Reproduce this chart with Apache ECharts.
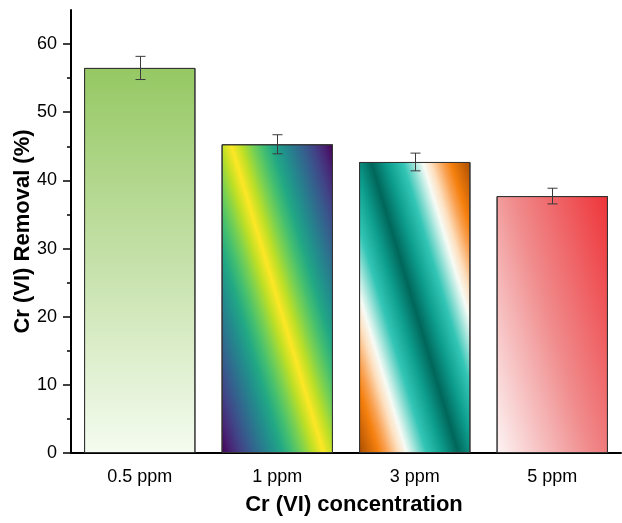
<!DOCTYPE html>
<html>
<head>
<meta charset="utf-8">
<script src="https://cdn.jsdelivr.net/npm/echarts@6/dist/echarts.min.js"></script>
<style>html,body{margin:0;padding:0;background:#fff;}</style>
</head>
<body>
<div id="main" style="width:622px;height:523px;"></div>
<script>

var categories = ['0.5 ppm', '1 ppm', '3 ppm', '5 ppm'];
var removal = [56.5, 45.3, 42.7, 37.7];
var errors = [1.7, 1.4, 1.3, 1.15];
var majorTicks = [0, 10, 20, 30, 40, 50, 60];
var minorTicks = [5, 15, 25, 35, 45, 55];

var font = 'Liberation Sans, Arial, sans-serif';

var chart = echarts.init(document.getElementById('main'));

// colour stops of the fills
var greenStops = [
    {offset: 0, color: '#95c863'},
    {offset: 0.5, color: '#c5e1a9'},
    {offset: 1, color: '#f5fcf0'}
];
var viridis = ['#440154', '#482475', '#414487', '#355f8d', '#2a788e', '#21918c',
               '#22a884', '#44bf70', '#7ad151', '#bddf26', '#fde725'];
var viridisStops = [];
for (var k = 0; k < viridis.length; k++) {
    viridisStops.push({offset: k * 0.05, color: viridis[k]});
}
for (var k = viridis.length - 2; k >= 0; k--) {
    viridisStops.push({offset: 1 - k * 0.05, color: viridis[k]});
}
var tealOrangeStops = [
    {offset: 0, color: '#a94c00'},
    {offset: 0.1, color: '#f5800e'},
    {offset: 0.14, color: '#f9a050'},
    {offset: 0.2, color: '#fde0c0'},
    {offset: 0.24, color: '#f7fbf5'},
    {offset: 0.27, color: '#bfece4'},
    {offset: 0.34, color: '#33c5b5'},
    {offset: 0.42, color: '#0d9e8e'},
    {offset: 0.5, color: '#00665a'},
    {offset: 0.58, color: '#0d9e8e'},
    {offset: 0.66, color: '#33c5b5'},
    {offset: 0.73, color: '#bfece4'},
    {offset: 0.76, color: '#f7fbf5'},
    {offset: 0.8, color: '#fde0c0'},
    {offset: 0.86, color: '#f9a050'},
    {offset: 0.9, color: '#f5800e'},
    {offset: 1, color: '#a94c00'}
];
var redStops = [
    {offset: 0, color: '#fdf4f4'},
    {offset: 0.5, color: '#f08a8b'},
    {offset: 1, color: '#ee3439'}
];

// slanted gradient from the bottom-left corner to the top-right corner;
// isolines lean by s pixels sideways per pixel of height
var slant = 0.3;
function slantGradient(w, h, stops) {
    var e = (w + slant * h) / 2 / (1 + slant * slant);
    var x0 = (w / 2 - e) / w;
    var y0 = (h / 2 + slant * e) / h;
    return new echarts.graphic.LinearGradient(x0, y0, 1 - x0, 1 - y0, stops);
}

function errorData() {
    var res = [];
    for (var i = 0; i < removal.length; i++) {
        res.push([i, removal[i] - errors[i], removal[i] + errors[i]]);
    }
    return res;
}

function renderError(params, api) {
    var x = api.value(0);
    var lo = api.coord([x, api.value(1)]);
    var hi = api.coord([x, api.value(2)]);
    var cx = Math.round(hi[0]) + 0.5;
    var cap = 5;
    var st = {stroke: '#3a3a3a', lineWidth: 1};
    return {
        type: 'group',
        children: [
            {type: 'line', shape: {x1: cx, y1: hi[1], x2: cx, y2: lo[1]}, style: st},
            {type: 'line', shape: {x1: cx - cap, y1: hi[1], x2: cx + cap, y2: hi[1]}, style: st},
            {type: 'line', shape: {x1: cx - cap, y1: lo[1], x2: cx + cap, y2: lo[1]}, style: st}
        ]
    };
}

var option = {
    backgroundColor: '#fff',
    animation: false,
    grid: {left: 71, right: 1, top: 10, bottom: 70, outerBoundsMode: 'none', containLabel: false},
    xAxis: [
        {
            type: 'category',
            data: categories,
            position: 'bottom',
            name: 'Cr (VI) concentration',
            nameLocation: 'middle',
            nameGap: 41,
            nameMoveOverlap: false,
            nameTextStyle: {fontFamily: font, fontSize: 22, fontWeight: 'bold', color: '#000', padding: [0, 0, 0, 16]},
            axisLine: {lineStyle: {color: '#000', width: 2}},
            axisTick: {alignWithLabel: true, length: 8, lineStyle: {color: '#000', width: 1.5}},
            axisLabel: {fontFamily: font, fontSize: 18, color: '#000', margin: 15}
        },
        {
            type: 'category',
            data: categories,
            position: 'bottom',
            axisLine: {show: false},
            axisTick: {length: 4, lineStyle: {color: '#000', width: 1.5}},
            axisLabel: {show: false}
        }
    ],
    yAxis: [
        {
            type: 'value',
            position: 'left',
            min: 0,
            max: 65,
            interval: 10,
            name: 'Cr (VI) Removal (%)',
            nameLocation: 'middle',
            nameGap: 37,
            nameMoveOverlap: false,
            nameTextStyle: {fontFamily: font, fontSize: 22, fontWeight: 'bold', color: '#000'},
            splitLine: {show: false},
            axisLine: {show: true, lineStyle: {color: '#000', width: 2}},
            axisTick: {show: true, customValues: majorTicks, length: 8, lineStyle: {color: '#000', width: 1.5}},
            axisLabel: {customValues: majorTicks, fontFamily: font, fontSize: 18, color: '#000', margin: 14}
        },
        {
            type: 'value',
            position: 'left',
            min: 0,
            max: 65,
            splitLine: {show: false},
            axisLine: {show: false},
            axisTick: {show: true, customValues: minorTicks, length: 4, lineStyle: {color: '#000', width: 1.5}},
            axisLabel: {show: false}
        }
    ],
    series: [
        {
            name: 'removal',
            type: 'bar',
            xAxisIndex: 0,
            yAxisIndex: 0,
            barWidth: '81%',
            data: removal,
            itemStyle: {borderColor: '#333', borderWidth: 1}
        },
        {
            name: 'error',
            type: 'custom',
            xAxisIndex: 0,
            yAxisIndex: 0,
            renderItem: renderError,
            encode: {x: 0, y: [1, 2]},
            data: errorData(),
            z: 5
        }
    ]
};

chart.setOption(option);

// bar sizes in pixels, so the slanted fills follow each bar's shape
var basePx = chart.convertToPixel({xAxisIndex: 0, yAxisIndex: 0}, [0, 0]);
var nextPx = chart.convertToPixel({xAxisIndex: 0, yAxisIndex: 0}, [1, 0]);
var barW = (nextPx[0] - basePx[0]) * 0.81;
var fills = [];
for (var i = 0; i < removal.length; i++) {
    var topPx = chart.convertToPixel({xAxisIndex: 0, yAxisIndex: 0}, [i, removal[i]]);
    var barH = basePx[1] - topPx[1];
    var c;
    if (i === 0) c = new echarts.graphic.LinearGradient(0, 0, 0, 1, greenStops);
    else if (i === 1) c = slantGradient(barW, barH, viridisStops);
    else if (i === 2) c = slantGradient(barW, barH, tealOrangeStops);
    else c = slantGradient(barW, barH, redStops);
    fills.push({value: removal[i], itemStyle: {color: c}});
}
chart.setOption({series: [{name: 'removal', data: fills}]});

</script>
</body>
</html>
